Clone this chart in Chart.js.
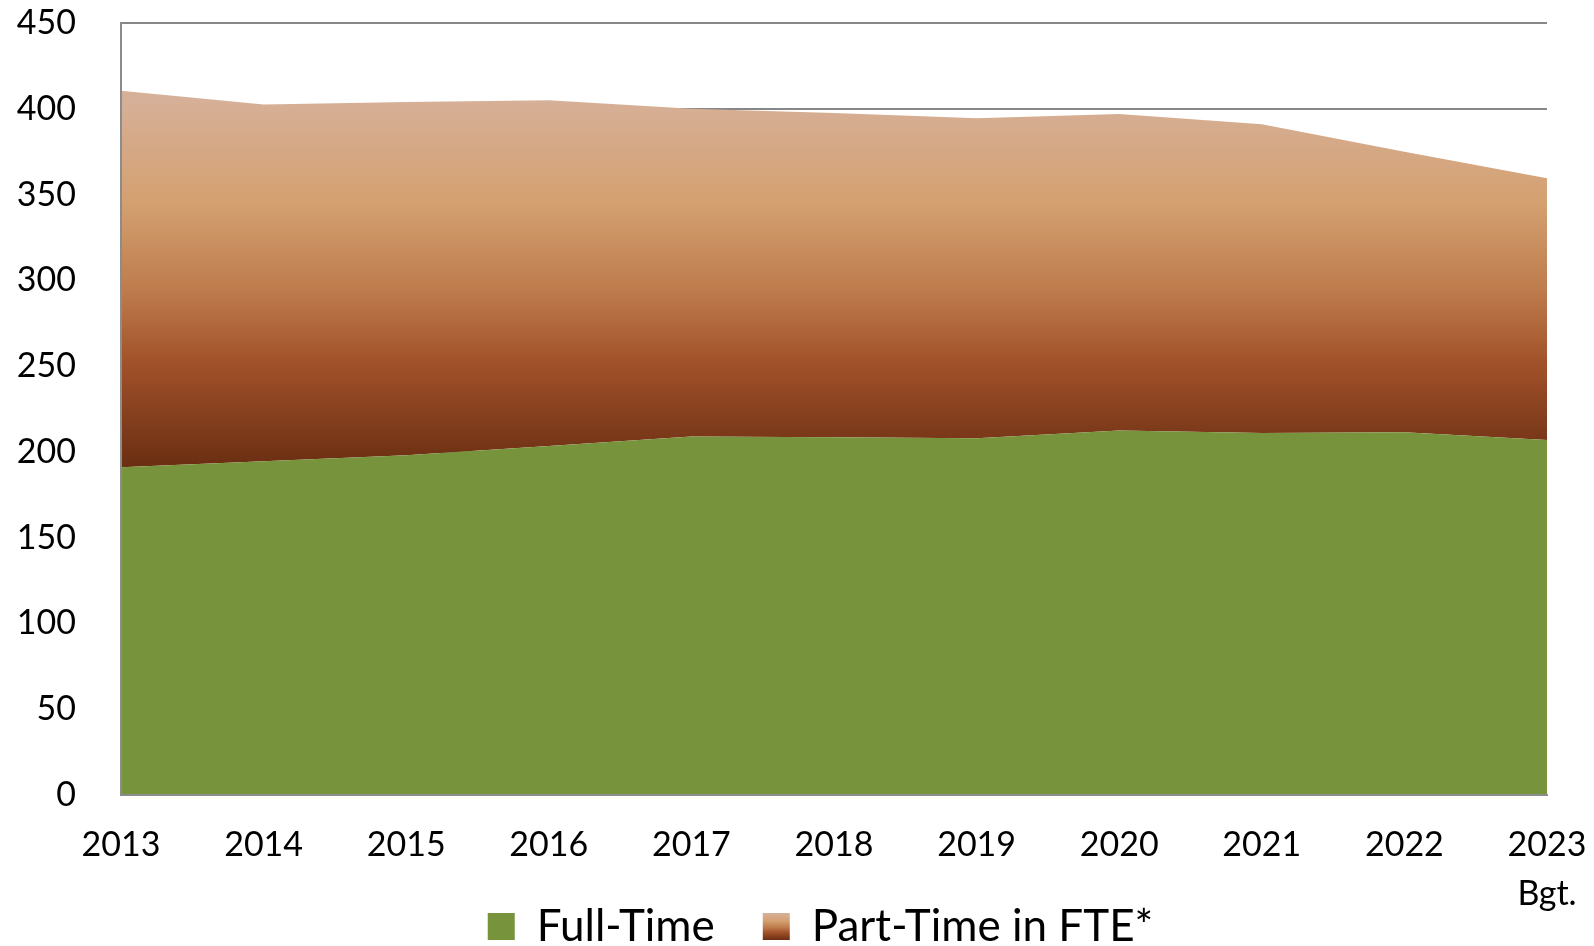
<!DOCTYPE html>
<html>
<head>
<meta charset="utf-8">
<script src="https://cdn.jsdelivr.net/npm/chart.js@4.4.1/dist/chart.umd.min.js"></script>
<style>
  html, body { margin: 0; padding: 0; background: #ffffff; }
  #wrap { width: 1594px; height: 946px; position: relative; }
</style>
</head>
<body>
<div id="wrap"><canvas id="c" width="1594" height="946"></canvas></div>
<script>
// ---- data ----
const categories = ['2013', '2014', '2015', '2016', '2017', '2018', '2019', '2020', '2021', '2022', ['2023', 'Bgt.']];
const fullTime = [191, 194.5, 198, 203.5, 209, 208.5, 208, 212.5, 211, 211.5, 207];
const partTimeFTE = [219.5, 208, 206, 201.5, 191, 189, 186.5, 184.5, 180, 163.5, 152.5];
const seriesNames = ['Full-Time', 'Part-Time in FTE*'];
const yMin = 0, yMax = 450, yStep = 50;

// ---- styles ----
const GREEN = '#77943D';
const gradStops = [
  [0.00, '#D6B19B'],
  [0.30, '#D4A070'],
  [0.52, '#BF7D4E'],
  [0.72, '#A2522A'],
  [1.00, '#6A2E12']
];

function partTimeGradient(chart) {
  const area = chart.chartArea;
  if (!area) return '#A2522A';
  const y = chart.scales.y;
  const totals = fullTime.map((v, i) => v + partTimeFTE[i]);
  const top = y.getPixelForValue(Math.max(...totals));
  const bottom = y.getPixelForValue(Math.min(...fullTime));
  const g = chart.ctx.createLinearGradient(0, top, 0, bottom);
  gradStops.forEach(s => g.addColorStop(s[0], s[1]));
  return g;
}

const legendPlugin = {
  id: 'legendTweaks',
  afterLayout(chart) {
    const lg = chart.legend;
    if (lg) { lg.left += 47; lg.right += 47; }
  },
  beforeDraw(chart) {
    const lg = chart.legend;
    if (!lg || !lg.legendHitBoxes || !lg.legendItems || lg.legendItems.length < 2) return;
    const hb = lg.legendHitBoxes[1];
    const lo = lg.options.labels;
    const fs = lo.font.size;
    const bh = lo.boxHeight;
    const boxTop = hb.top + Math.max((fs - bh) / 2, 0);
    const g = chart.ctx.createLinearGradient(0, boxTop, 0, boxTop + bh);
    gradStops.forEach(s => g.addColorStop(s[0], s[1]));
    lg.legendItems[1].fillStyle = g;
    lg.legendItems[0].fillStyle = GREEN;
  }
};

Chart.defaults.font.family = 'Lato, "Open Sans", sans-serif';
Chart.defaults.color = '#000000';

new Chart(document.getElementById('c'), {
  type: 'line',
  data: {
    labels: categories,
    datasets: [
      {
        label: seriesNames[0],
        data: fullTime,
        backgroundColor: GREEN,
        borderWidth: 0,
        borderColor: 'rgba(0,0,0,0)',
        pointRadius: 0,
        fill: 'origin',
        tension: 0
      },
      {
        label: seriesNames[1],
        data: partTimeFTE,
        backgroundColor: (ctx) => partTimeGradient(ctx.chart),
        borderWidth: 0,
        borderColor: 'rgba(0,0,0,0)',
        pointRadius: 0,
        fill: '-1',
        tension: 0
      }
    ]
  },
  options: {
    responsive: false,
    animation: false,
    events: [],
    layout: { padding: { top: 23, right: 47, bottom: -12.5, left: 0 } },
    plugins: {
      tooltip: { enabled: false },
      filler: { propagate: false },
      legend: {
        display: true,
        position: 'bottom',
        labels: {
          boxWidth: 27,
          boxHeight: 27,
          padding: 48,
          color: '#000000',
          font: { size: 44 }
        }
      }
    },
    scales: {
      x: {
        type: 'category',
        offset: false,
        grid: { display: false, drawTicks: false },
        border: { display: true, color: '#8C8C8C', width: 2, z: 1 },
        ticks: {
          autoSkip: false,
          maxRotation: 0,
          minRotation: 0,
          padding: 25,
          font: { size: 34, lineHeight: 1.46 }
        },
        afterFit: (scale) => {
          scale.height = 61.5;
          scale.paddingLeft = 0;
          scale.paddingRight = 0;
          scale._computeLabelArea = () => undefined;
        }
      },
      y: {
        stacked: true,
        min: yMin,
        max: yMax,
        grid: { color: '#878787', lineWidth: 2, drawTicks: false },
        border: { display: true, color: '#8C8C8C', width: 2, z: 1 },
        ticks: {
          stepSize: yStep,
          padding: 45,
          font: { size: 34 }
        },
        afterFit: (scale) => {
          scale.width = 121;
          scale.paddingTop = 0;
          scale.paddingBottom = 0;
        }
      }
    }
  },
  plugins: [legendPlugin]
});
</script>
</body>
</html>
